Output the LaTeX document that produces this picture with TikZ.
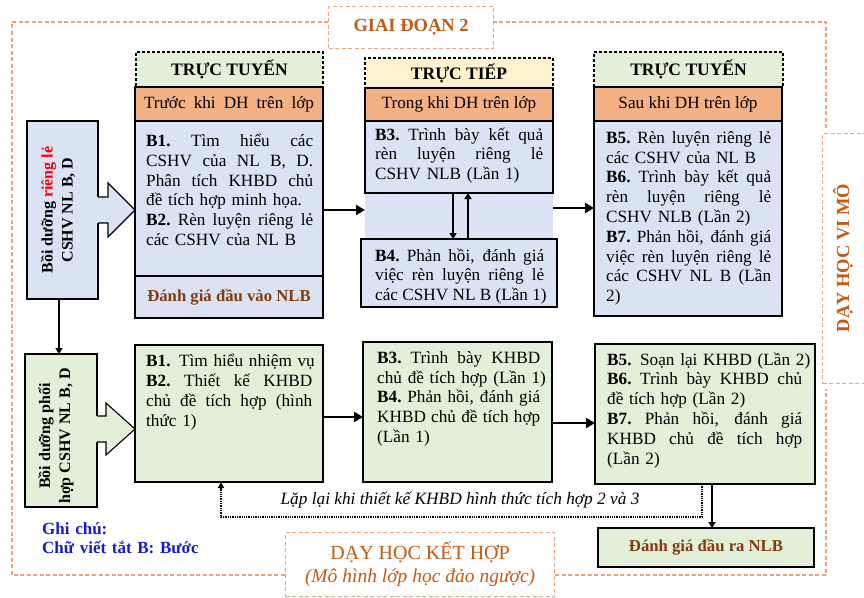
\documentclass[tikz,border=0pt]{standalone}
\usepackage{fontspec}
\setmainfont{Liberation Serif}
\usetikzlibrary{arrows.meta,calc}
\definecolor{lblue}{HTML}{DAE3F3}
\definecolor{lgreen}{HTML}{E2EFD9}
\definecolor{lorange}{HTML}{F4B183}
\definecolor{lyellow}{HTML}{FFF2CC}
\definecolor{dorange}{HTML}{C55A11}
\definecolor{brownt}{HTML}{843C0C}
\definecolor{framec}{HTML}{EDA57F}
\definecolor{noteblue}{HTML}{1A1ACC}
\newcommand\J[2]{\leavevmode\hbox to #1pt{\spaceskip=0.25em plus 1fil\xspaceskip=0.25em plus 1fil\relax #2}}
\tikzset{
  bx/.style={draw=black, line width=1.1pt, inner sep=0pt, outer sep=0pt, anchor=north west},
  hdrbox/.style={bx, dash pattern=on 3pt off 2pt},
  frm/.style={draw=framec, line width=1.2pt, dash pattern=on 4pt off 2.5pt},
  bodyt/.style={anchor=base west, inner sep=0pt, align=left, text width=230pt, font=\fontsize{17.2}{19.8}\selectfont},
  hdrt/.style={font=\bfseries\fontsize{17.5}{20}\selectfont},
  subt/.style={font=\fontsize{17.2}{20}\selectfont},
  evalt/.style={text=brownt, font=\bfseries\fontsize{16.7}{20}\selectfont},
  sidet/.style={rotate=90, align=center, inner sep=0pt, font=\bfseries\fontsize{16}{20}\selectfont},
  flow/.style={line width=2.6pt, -{Triangle[length=9pt,width=10pt]}},
  flowsm/.style={line width=2.2pt, -{Triangle[length=6pt,width=7pt]}},
  blockout/.style={line width=1.1pt, line join=miter},
}
\begin{document}
\begin{tikzpicture}[x=1pt,y=-1pt]
\useasboundingbox (0,0) rectangle (864,597);
\fill[white] (0,0) rectangle (864,597);

% ---------- outer frame and labels ----------
\node[frm, fill=white, anchor=north west, inner sep=0pt, minimum width=165pt, minimum height=42pt,
      text=dorange, font=\bfseries\fontsize{18.5}{20}\selectfont] (gd) at (328,6) {GIAI ĐOẠN 2};
\node[frm, fill=white, anchor=north west, inner sep=0pt, minimum width=269pt, minimum height=64pt,
      text=dorange, align=center, font=\fontsize{20}{23}\selectfont] (kh) at (285,532)
      {DẠY HỌC KẾT HỢP\\{\itshape\fontsize{19.5}{23}\selectfont (Mô hình lớp học đảo ngược)}};
\node[frm, anchor=north west, inner sep=0pt, minimum width=50pt, minimum height=250pt] (vm) at (822,133) {};
\node[rotate=90, text=dorange, inner sep=0pt, font=\bfseries\fontsize{18.5}{20}\selectfont] (vmt) at (843,258) {DẠY HỌC VI MÔ};
\draw[frm] (gd.west |- 0,22) -- (12,22) -- (12,575) -- (kh.west |- 0,575);
\draw[frm] (kh.east |- 0,575) -- (826,575) -- (826,389);
\draw[frm] (826,128) -- (826,22) -- (gd.east |- 0,22);

% ---------- column 1 ----------
\node[hdrbox, fill=lgreen, minimum width=187pt, minimum height=35pt, hdrt] (h1) at (136,52) {TRỰC TUYẾN};
\node[bx, fill=lorange, minimum width=188pt, minimum height=34pt, subt] (s1) at (135,87) {\J{170}{Trước khi DH trên lớp}};
\node[bx, fill=lblue, minimum width=188pt, minimum height=155pt] (b1) at (135,121) {};
\node[bx, fill=lblue, minimum width=188pt, minimum height=42pt, evalt] (e1) at (135,276) {Đánh giá đầu vào NLB};
\node[bodyt] (t1) at (146,146.5) {%
\J{167}{\textbf{B1.} Tìm hiểu các}\\
\J{167}{CSHV của NL B, D.}\\
\J{167}{Phân tích KHBD chủ}\\
đề tích hợp minh họa.\\
\J{167}{\textbf{B2.} Rèn luyện riêng lẻ}\\
các CSHV của NL B};

% ---------- column 2 ----------
\node[hdrbox, fill=lyellow, minimum width=188pt, minimum height=30pt, hdrt] (h2) at (365,58) {TRỰC TIẾP};
\node[bx, fill=lorange, minimum width=188pt, minimum height=33pt, subt] (s2) at (365,88) {Trong khi DH trên lớp};
\node[anchor=north west, fill=lblue, inner sep=0pt, minimum width=188pt, minimum height=119pt] (bg2) at (365,121) {};
\node[bx, fill=lblue, minimum width=188pt, minimum height=72pt] (b3) at (365,121) {};
\node[bx, fill=lblue, minimum width=196pt, minimum height=68pt] (b4) at (361,239) {};
\node[bodyt] (t3) at (375,140) {%
\J{168}{\textbf{B3.} Trình bày kết quả}\\
\J{168}{rèn luyện riêng lẻ}\\
CSHV NLB (Lần 1)};
\node[bodyt] (t4) at (375,261) {%
\J{169}{\textbf{B4.} Phản hồi, đánh giá}\\
\J{169}{việc rèn luyện riêng lẻ}\\
\J{169}{các CSHV NL B (Lần 1)}};
\draw[flowsm] (b3.south -| 453,0) -- (b4.north -| 453,0);
\draw[flowsm] (b4.north -| 468,0) -- (b3.south -| 468,0);

% ---------- column 3 ----------
\node[hdrbox, fill=lgreen, minimum width=189pt, minimum height=35pt, hdrt] (h3) at (594,52) {TRỰC TUYẾN};
\node[bx, fill=lorange, minimum width=188pt, minimum height=34pt, subt] (s3) at (594,87) {Sau khi DH trên lớp};
\node[bx, fill=lblue, minimum width=188pt, minimum height=195pt] (b5) at (594,121) {};
\node[bodyt] (t5) at (606,143.3) {%
\J{165}{\textbf{B5.} Rèn luyện riêng lẻ}\\
các CSHV của NL B\\
\J{165}{\textbf{B6.} Trình bày kết quả}\\
\J{165}{rèn luyện riêng lẻ}\\
CSHV NLB (Lần 2)\\
\J{165}{\textbf{B7.} Phản hồi, đánh giá}\\
\J{165}{việc rèn luyện riêng lẻ}\\
\J{165}{các CSHV NL B (Lần}\\
2)};

% ---------- left boxes ----------
\node[bx, fill=lblue, minimum width=71pt, minimum height=178pt] (L1) at (27,121) {};
\node[sidet] (L1t) at (58,210) {Bồi dưỡng \textcolor{red}{riêng lẻ}\\CSHV NL B, D};
\fill[lblue] (96.5,197) -- (108,197) -- (108,183) -- (135,210) -- (108,237) -- (108,223) -- (96.5,223) -- cycle;
\draw[blockout] (L1.east |- 0,197) -- (108,197) -- (108,183) -- (b1.west |- 0,210) -- (108,237) -- (108,223) -- (L1.east |- 0,223);

\node[bx, fill=lgreen, minimum width=72pt, minimum height=153pt] (L2) at (25,354) {};
\node[sidet] (L2t) at (56,436) {Bồi dưỡng phối\\hợp CSHV NL B, D};
\draw[flowsm, line width=2pt] (L1.south -| 59,0) -- (L2.north -| 59,0);

% ---------- row 2 ----------
\node[bx, fill=lgreen, minimum width=188pt, minimum height=137pt] (r1) at (135,345) {};
\node[bx, fill=lgreen, minimum width=189pt, minimum height=140pt] (r2) at (363,342) {};
\node[bx, fill=lgreen, minimum width=220pt, minimum height=140pt] (r3) at (595,344) {};
\node[bx, fill=lgreen, minimum width=216pt, minimum height=39pt, evalt] (out) at (598,528) {Đánh giá đầu ra NLB};
\fill[lgreen] (95.5,416) -- (106,416) -- (106,403) -- (135,429) -- (106,455) -- (106,442) -- (95.5,442) -- cycle;
\draw[blockout] (L2.east |- 0,416) -- (106,416) -- (106,403) -- (r1.west |- 0,429) -- (106,455) -- (106,442) -- (L2.east |- 0,442);

\node[bodyt] (u1) at (146,366.7) {%
\textbf{B1.} Tìm hiểu nhiệm vụ\\
\J{166}{\textbf{B2.} Thiết kế KHBD}\\
\J{166}{chủ đề tích hợp (hình}\\
thức 1)};
\node[bodyt] (u2) at (377,363.3) {%
\J{163}{\textbf{B3.} Trình bày KHBD}\\
chủ đề tích hợp (Lần 1)\\
\J{163}{\textbf{B4.} Phản hồi, đánh giá}\\
\J{163}{KHBD chủ đề tích hợp}\\
(Lần 1)};
\node[bodyt] (u3) at (607,365) {%
\textbf{B5.} Soạn lại KHBD (Lần 2)\\
\J{195}{\textbf{B6.} Trình bày KHBD chủ}\\
đề tích hợp (Lần 2)\\
\J{195}{\textbf{B7.} Phản hồi, đánh giá}\\
\J{195}{KHBD chủ đề tích hợp}\\
(Lần 2)};

% ---------- flow arrows ----------
\draw[flow] (b1.east |- 0,210) -- (bg2.west |- 0,210);
\draw[flow] (bg2.east |- 0,208) -- (b5.west |- 0,208);
\draw[flow] (r1.east |- 0,417) -- (r2.west |- 0,417);
\draw[flow] (r2.east |- 0,423) -- (r3.west |- 0,423);
\draw[flowsm, line width=2.4pt] (r3.south -| 712,0) -- (out.north -| 712,0);

% ---------- feedback loop ----------
\coordinate (fb1) at (702,517);
\coordinate (fb2) at (221,517);
\draw[line width=1.3pt, densely dotted, -{Triangle[length=6pt,width=6pt]}] (r3.south -| fb1) -- (fb1) -- (fb2) -- (r1.south -| fb2);
\node[anchor=base, inner sep=0pt, font=\itshape\fontsize{17.3}{18}\selectfont] (lap) at (460,504) {Lặp lại khi thiết kế KHBD hình thức tích hợp 2 và 3};

% ---------- note ----------
\node[anchor=base west, inner sep=0pt, align=left, text width=200pt, text=noteblue, font=\bfseries\fontsize{17}{19.5}\selectfont] (note) at (42,534) {Ghi chú:\\Chữ viết tắt B: Bước};
\end{tikzpicture}
\end{document}
